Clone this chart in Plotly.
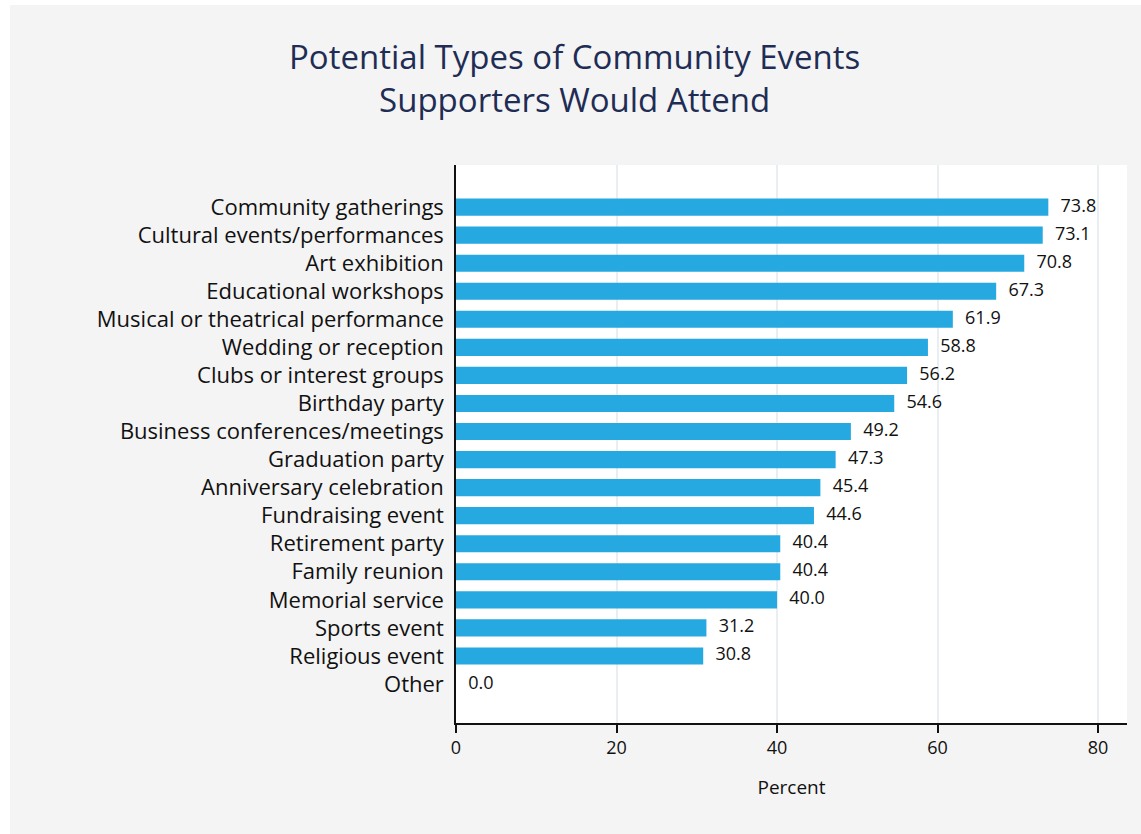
import plotly.graph_objects as go

categories = [
    "Community gatherings", "Cultural events/performances", "Art exhibition",
    "Educational workshops", "Musical or theatrical performance", "Wedding or reception",
    "Clubs or interest groups", "Birthday party", "Business conferences/meetings",
    "Graduation party", "Anniversary celebration", "Fundraising event",
    "Retirement party", "Family reunion", "Memorial service", "Sports event",
    "Religious event", "Other",
]
values = [73.8, 73.1, 70.8, 67.3, 61.9, 58.8, 56.2, 54.6, 49.2, 47.3, 45.4, 44.6,
          40.4, 40.4, 40.0, 31.2, 30.8, 0.0]
x_ticks = [0, 20, 40, 60, 80]
title_text = "Potential Types of Community Events<br>Supporters Would Attend"

cats = categories[::-1]
vals = values[::-1]

W, H = 1141, 834
ml, mr, mt, mb = 456, 14, 165, 111

fig = go.Figure()
fig.add_trace(go.Bar(
    y=cats, x=vals, orientation="h",
    marker=dict(color="#26a9e0", line=dict(width=0)),
    width=0.61, hoverinfo="skip",
))
fig.add_trace(go.Scatter(
    y=cats, x=vals, mode="text+markers",
    marker=dict(size=18, opacity=0),
    text=[f"{v:.1f}" for v in vals], textposition="middle right",
    textfont=dict(family="Open Sans", size=18, color="#111111"),
    hoverinfo="skip", showlegend=False, cliponaxis=False,
))

pw = W - ml - mr
ph = H - mt - mb
fig.add_shape(type="rect", xref="paper", yref="paper",
              x0=-ml / pw, x1=(W - ml) / pw, y0=1 + (mt - 5) / ph, y1=1 + (mt + 5) / ph,
              fillcolor="white", line=dict(width=0), layer="below")
fig.add_shape(type="rect", xref="paper", yref="paper",
              x0=-ml / pw, x1=-(ml - 10) / pw, y0=-mb / ph, y1=1 + mt / ph,
              fillcolor="white", line=dict(width=0), layer="below")

fig.add_annotation(
    text=title_text, xref="paper", yref="paper",
    x=(574 - ml) / pw, y=1 + (mt - 78) / ph, xanchor="center", yanchor="middle",
    showarrow=False, align="center",
    font=dict(family="Open Sans", size=33, color="#1f2d54"),
)

fig.update_layout(
    width=W, height=H,
    margin=dict(l=ml, r=mr, t=mt, b=mb),
    paper_bgcolor="#f4f4f4", plot_bgcolor="white",
    showlegend=False,
    xaxis=dict(
        range=[0, 83.6], tickvals=x_ticks, ticks="outside", ticklen=8,
        tickcolor="#111111", tickwidth=1.5,
        showline=True, linecolor="#111111", linewidth=1.5,
        showgrid=True, gridcolor="#e9eef2", gridwidth=2, zeroline=False,
        tickfont=dict(family="Open Sans", size=18, color="#111111"),
        title=dict(text="Percent", font=dict(family="Open Sans", size=19, color="#111111"), standoff=22),
        fixedrange=True,
    ),
    yaxis=dict(
        categoryorder="array", categoryarray=cats,
        tickmode="array", tickvals=cats, ticktext=cats,
        range=[-1.39, 18.5], showline=True, linecolor="#111111", linewidth=1.5,
        showgrid=False, zeroline=False, ticks="",
        tickfont=dict(family="Open Sans", size=22, color="#111111"),
        ticklabelstandoff=6, fixedrange=True,
    ),
)
fig.write_html("out.html")
